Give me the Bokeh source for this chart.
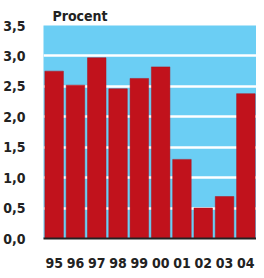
from bokeh.plotting import figure
from bokeh.models import Range1d, FixedTicker
from bokeh.embed import file_html
from bokeh.resources import INLINE

years = ["95", "96", "97", "98", "99", "00", "01", "02", "03", "04"]
values = [2.75, 2.52, 2.97, 2.46, 2.63, 2.82, 1.30, 0.50, 0.69, 2.38]
y_ticks = [0.0, 0.5, 1.0, 1.5, 2.0, 2.5, 3.0, 3.5]
y_labels = ["0,0", "0,5", "1,0", "1,5", "2,0", "2,5", "3,0", "3,5"]
title_text = "Procent"

FONT = "DejaVu Sans Condensed"
BLUE = "#6BCEF4"
RED = "#C1121C"

xs = list(range(len(years)))

p = figure(width=256, height=270, output_backend="svg", toolbar_location=None,
           x_range=Range1d(-0.5, 9.5), y_range=Range1d(0, 3.5),
           title=title_text,
           min_border_left=41, min_border_right=0, min_border_top=25, min_border_bottom=30)
p.background_fill_color = BLUE
p.border_fill_color = "white"
p.outline_line_color = None

p.title.text_font = FONT
p.title.text_font_style = "bold"
p.title.text_font_size = "14px"
p.title.text_color = "#222222"
p.title.offset = 9
p.title.standoff = 4

p.vbar(x=xs, top=values, width=0.87, bottom=0, fill_color=RED, line_color="#B0101A", line_width=0.5)

p.xaxis.ticker = FixedTicker(ticks=xs)
p.xaxis.major_label_overrides = {i: y for i, y in enumerate(years)}
p.yaxis.ticker = FixedTicker(ticks=y_ticks)
p.yaxis.major_label_overrides = {t: l for t, l in zip(y_ticks, y_labels)}

for ax in (p.xaxis, p.yaxis):
    ax.major_tick_line_color = None
    ax.minor_tick_line_color = None
    ax.major_label_text_font = FONT
    ax.major_label_text_font_style = "bold"
    ax.major_label_text_font_size = "14px"
    ax.major_label_text_color = "#222222"

p.yaxis.axis_line_color = None
p.yaxis.major_label_standoff = 12
p.xaxis.axis_line_color = "#222222"
p.xaxis.axis_line_width = 2
p.xaxis.major_label_standoff = 13

p.xgrid.grid_line_color = None
p.ygrid.grid_line_color = "white"
p.ygrid.grid_line_width = 2.5

open("out.html", "w").write(file_html(p, INLINE))
